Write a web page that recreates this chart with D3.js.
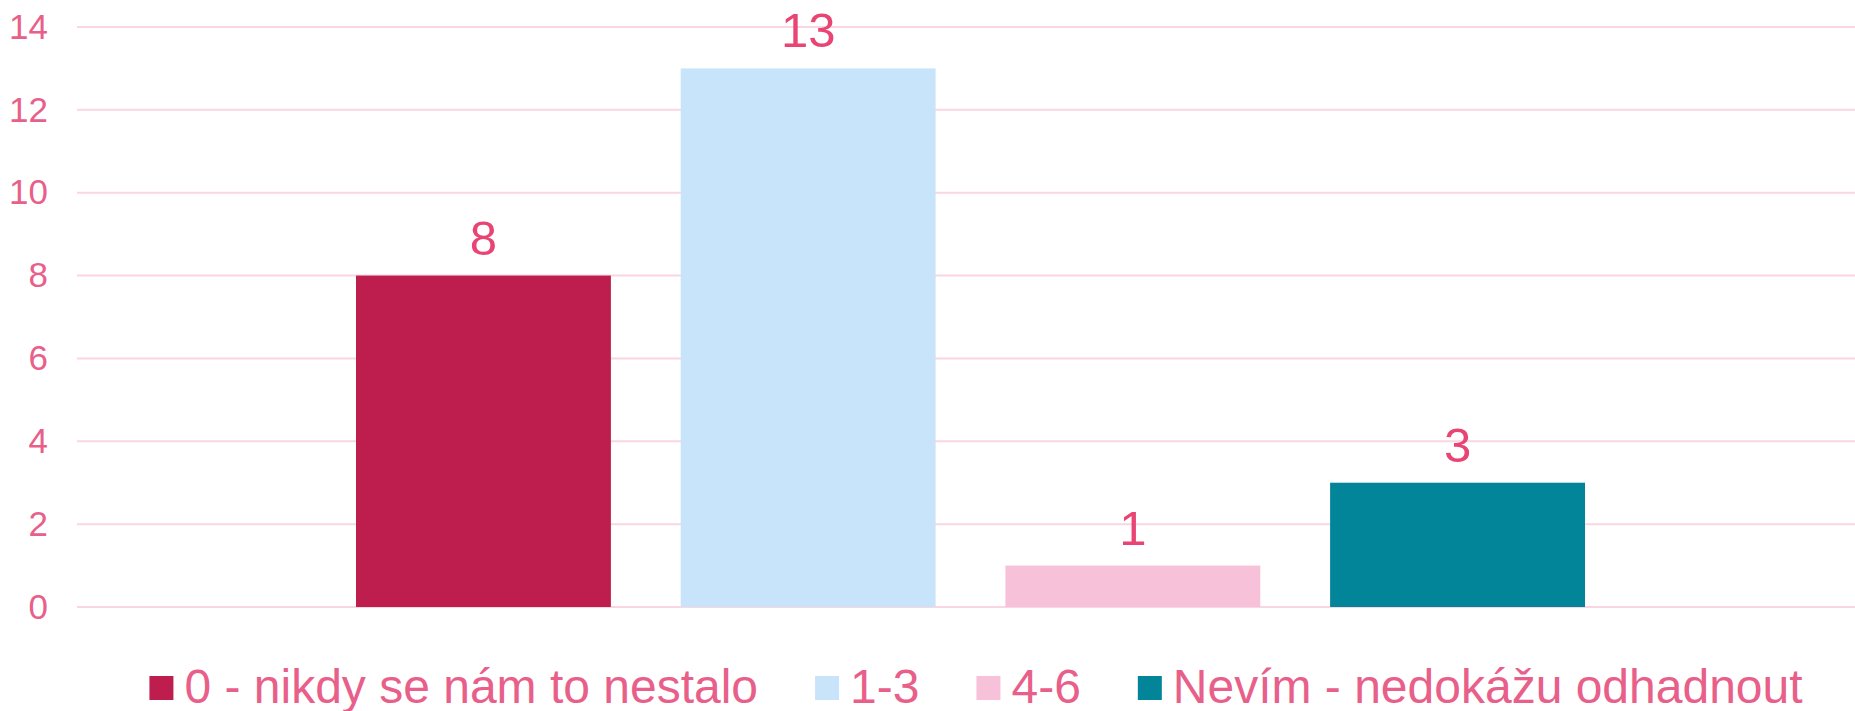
<!DOCTYPE html>
<html>
<head>
<meta charset="utf-8">
<script src="https://cdn.jsdelivr.net/npm/d3@7.9.0/dist/d3.min.js"></script>
<style>
  html, body { margin: 0; padding: 0; background: #fff; }
  svg { display: block; font-family: "Liberation Sans", Arial, sans-serif; }
</style>
</head>
<body>
<svg id="chart" width="1855" height="711"></svg>
<script>
// chart data
const series = ["0 - nikdy se nám to nestalo", "1-3", "4-6", "Nevím - nedokážu odhadnout"];
const values = [8, 13, 1, 3];
const colors = ["#be1e4d", "#c8e4fa", "#f7c2d9", "#028599"];
const yTicks = [0, 2, 4, 6, 8, 10, 12, 14];

const width = 1855, height = 711;
const margin = { left: 77, right: 0, top: 27, bottom: 104 };

const svg = d3.select("#chart");

// one category holding all four series (clustered column)
const x0 = d3.scaleBand()
    .domain([""])
    .range([86, width - margin.right])
    .paddingOuter(0.2197);

const x1 = d3.scaleBand()
    .domain(series)
    .range([0, x0.bandwidth()])
    .paddingInner(0.215);

const y = d3.scaleLinear()
    .domain([0, 14])
    .range([height - margin.bottom, margin.top]);

// gridlines
svg.append("g")
    .selectAll("line")
    .data(yTicks)
    .join("line")
    .attr("x1", margin.left)
    .attr("x2", width - margin.right)
    .attr("y1", d => y(d))
    .attr("y2", d => y(d))
    .attr("stroke", "#f9d6e2")
    .attr("stroke-width", 2);

// y axis labels
const yAxis = d3.axisLeft(y).tickValues(yTicks).tickSize(0).tickPadding(0);
svg.append("g")
    .attr("transform", `translate(${48},0)`)
    .call(yAxis)
    .call(g => g.select(".domain").remove())
    .call(g => g.selectAll("text")
        .attr("fill", "#e8608a")
        .attr("font-size", 35)
        .attr("font-family", "Liberation Sans, Arial, sans-serif"));

// bars
const group = svg.append("g").attr("transform", `translate(${x0("")},0)`);

group.selectAll("rect")
    .data(values)
    .join("rect")
    .attr("x", (d, i) => x1(series[i]))
    .attr("width", x1.bandwidth())
    .attr("y", d => y(d))
    .attr("height", d => y(0) - y(d))
    .attr("fill", (d, i) => colors[i]);

// data labels
group.selectAll("text.val")
    .data(values)
    .join("text")
    .attr("class", "val")
    .attr("x", (d, i) => x1(series[i]) + x1.bandwidth() / 2)
    .attr("y", d => y(d) - 21)
    .attr("text-anchor", "middle")
    .attr("font-size", 49)
    .attr("fill", "#e84574")
    .text(d => d);

// legend
const legend = svg.append("g");
const items = legend.selectAll("g")
    .data(series)
    .join("g");

items.append("rect")
    .attr("width", 24)
    .attr("height", 24)
    .attr("y", 676)
    .attr("fill", (d, i) => colors[i]);

items.append("text")
    .attr("x", 35)
    .attr("y", 703)
    .attr("font-size", 48)
    .attr("fill", "#e8608a")
    .text(d => d);

// lay out legend items in a row, centered
let cursor = 0;
items.each(function () {
    const w = this.querySelector("text").getComputedTextLength() + 35;
    d3.select(this).attr("data-x", cursor);
    cursor += w + 57;
});
const total = cursor - 57;
const start = 976 - total / 2;
items.attr("transform", function () {
    return `translate(${start + (+this.getAttribute("data-x"))},0)`;
});
</script>
</body>
</html>
